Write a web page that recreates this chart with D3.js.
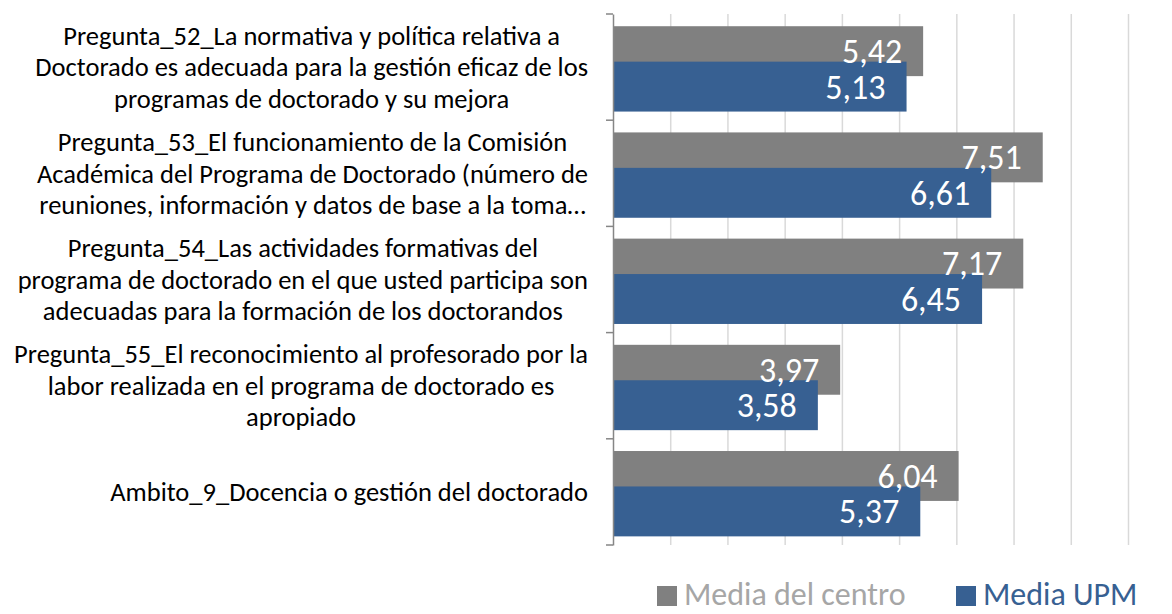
<!DOCTYPE html>
<html>
<head>
<meta charset="utf-8">
<script src="https://cdn.jsdelivr.net/npm/d3@7"></script>
<style>
  body { margin: 0; background: #fff; }
  text { font-family: Carlito, Calibri, Lato, sans-serif; }
</style>
</head>
<body>
<div id="chart"></div>
<script>
const categories = [
  ["Pregunta_52_La normativa y política relativa a", "Doctorado es adecuada para la gestión eficaz de los", "programas de doctorado y su mejora"],
  ["Pregunta_53_El funcionamiento de la Comisión", "Académica del Programa de Doctorado (número de", "reuniones, información y datos de base a la toma…"],
  ["Pregunta_54_Las actividades formativas del", "programa de doctorado en el que usted participa son", "adecuadas para la formación de los doctorandos"],
  ["Pregunta_55_El reconocimiento al profesorado por la", "labor realizada en el programa de doctorado es", "apropiado"],
  ["Ambito_9_Docencia o gestión del doctorado"]
];
const mediaCentro = [5.42, 7.51, 7.17, 3.97, 6.04];
const mediaUPM = [5.13, 6.61, 6.45, 3.58, 5.37];
const seriesNames = ["Media del centro", "Media UPM"];
const xTicks = [0, 1, 2, 3, 4, 5, 6, 7, 8, 9];

let width = 1172, height = 614,
  margin = ({ top: 14, right: 44, bottom: 69, left: 613 });

const colors = ["#808080", "#376092"];
const legendText = ["#A6A6A6", "#376092"];

let x = d3.scaleLinear()
  .domain([0, 9])
  .range([margin.left, width - margin.right]);

let y = d3.scaleBand()
  .domain(d3.range(categories.length))
  .range([margin.top, height - margin.bottom]);

const svg = d3.select("#chart")
  .append("svg")
  .attr("width", width)
  .attr("height", height)
  .attr("viewBox", [0, 0, width, height]);

// gridlines
svg.append("g")
  .attr("transform", `translate(0,${height - margin.bottom})`)
  .call(d3.axisBottom(x).tickValues(xTicks.slice(1)).tickSize(-(height - margin.bottom - margin.top)).tickFormat(""))
  .call(g => g.select(".domain").remove())
  .call(g => g.selectAll("line").attr("stroke", "#D9D9D9").attr("stroke-width", 1.5));

let bw = y.bandwidth();
let barH = bw * 0.47;
let off = bw * 0.115;
let shift = barH * 0.71;

const data = categories.map((c, i) => ({ i, vals: [mediaCentro[i], mediaUPM[i]] }));

// bars
[0, 1].forEach(s => {
  svg.append("g")
    .selectAll("rect")
    .data(data)
    .join("rect")
    .attr("x", x(0))
    .attr("y", d => y(d.i) + off + s * shift)
    .attr("width", d => x(d.vals[s]) - x(0))
    .attr("height", barH)
    .attr("fill", colors[s]);
});

// labels
[0, 1].forEach(s => {
  svg.append("g")
    .selectAll("text")
    .data(data)
    .join("text")
    .attr("x", d => x(d.vals[s]) - 21)
    .attr("y", d => y(d.i) + off + s * shift + barH / 2)
    .attr("dy", "0.35em")
    .attr("text-anchor", "end")
    .attr("fill", "#fff")
    .attr("font-size", 34)
    .text(d => d3.format(".2f")(d.vals[s]).replace(".", ","));
});

// y axis
svg.append("g")
  .attr("transform", `translate(${margin.left},0)`)
  .call(d3.axisLeft(y).tickValues([]).tickSizeOuter(0))
  .call(g => g.select(".domain").attr("stroke", "#868686").attr("stroke-width", 1.5));

svg.append("g")
  .selectAll("line")
  .data(d3.range(categories.length + 1))
  .join("line")
  .attr("x1", margin.left - 7)
  .attr("x2", margin.left)
  .attr("y1", i => margin.top + i * bw)
  .attr("y2", i => margin.top + i * bw)
  .attr("stroke", "#868686")
  .attr("stroke-width", 1.5);

// category labels
const lineH = 31.5;
const catG = svg.append("g");
categories.forEach((lines, i) => {
  const g = catG.append("g");
  const t = g.append("text")
    .attr("font-size", 26.5)
    .attr("fill", "#000")
    .attr("text-anchor", "middle");
  const cy = y(i) + bw / 2;
  lines.forEach((l, k) => {
    t.append("tspan")
      .attr("y", cy + (k - (lines.length - 1) / 2) * lineH)
      .attr("dy", "0.35em")
      .text(l);
  });
  let maxW = d3.max(t.selectAll("tspan").nodes(), n => n.getComputedTextLength());
  t.selectAll("tspan").attr("x", 588 - maxW / 2);
});

// legend
const legend = svg.append("g");
const legX = [657, 956];
seriesNames.forEach((n, s) => {
  legend.append("rect")
    .attr("x", legX[s])
    .attr("y", 586)
    .attr("width", 20)
    .attr("height", 20)
    .attr("fill", colors[s]);
  legend.append("text")
    .attr("x", legX[s] + 27)
    .attr("y", 605)
    .attr("font-size", 32)
    .attr("fill", legendText[s])
    .text(n);
});
</script>
</body>
</html>
